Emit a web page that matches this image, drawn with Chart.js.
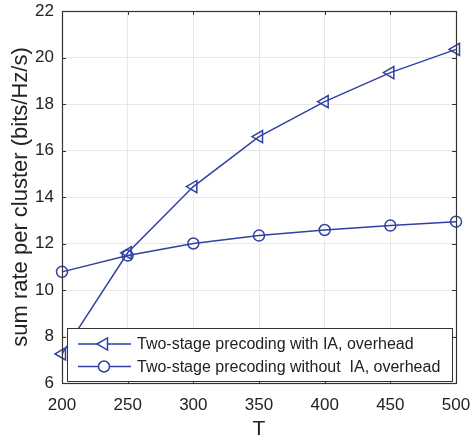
<!DOCTYPE html>
<html>
<head>
<meta charset="utf-8">
<script src="https://cdn.jsdelivr.net/npm/chart.js@4/dist/chart.umd.min.js"></script>
<style>
  html, body { margin: 0; padding: 0; background: #fff; }
  #wrap { width: 470px; height: 442px; }
</style>
</head>
<body>
<div id="wrap"><canvas id="c" width="470" height="442"></canvas></div>
<script>
// data
const T = [200, 250, 300, 350, 400, 450, 500];
const withIA = [7.25, 11.6, 14.45, 16.6, 18.1, 19.35, 20.35];
const withoutIA = [10.78, 11.48, 12.0, 12.34, 12.58, 12.77, 12.94];
const seriesNames = ['Two-stage precoding with IA, overhead', 'Two-stage precoding without  IA, overhead'];
const xTicks = [200, 250, 300, 350, 400, 450, 500];
const yTicks = [6, 8, 10, 12, 14, 16, 18, 20, 22];

const blue = '#3141a0';
const font = "'Liberation Sans', Arial, sans-serif";

// box + inward ticks (matlab style)
const boxPlugin = {
  id: 'box',
  afterDatasetsDraw(chart) {
    const { ctx, chartArea: a, scales } = chart;
    ctx.save();
    ctx.strokeStyle = '#333';
    ctx.lineWidth = 1;
    ctx.beginPath();
    xTicks.forEach(v => {
      const x = Math.round(scales.x.getPixelForValue(v)) + 0.5;
      ctx.moveTo(x, a.bottom); ctx.lineTo(x, a.bottom - 4);
      ctx.moveTo(x, a.top); ctx.lineTo(x, a.top + 4);
    });
    yTicks.forEach(v => {
      const y = Math.round(scales.y.getPixelForValue(v)) + 0.5;
      ctx.moveTo(a.left, y); ctx.lineTo(a.left + 4, y);
      ctx.moveTo(a.right, y); ctx.lineTo(a.right - 4, y);
    });
    ctx.stroke();
    ctx.lineWidth = 1.2;
    ctx.strokeRect(Math.round(a.left) + 0.5, Math.round(a.top) + 0.5,
      Math.round(a.right - a.left), Math.round(a.bottom - a.top));
    ctx.restore();
  }
};

// legend box inside the plot, lower part
const legendPlugin = {
  id: 'boxLegend',
  afterDraw(chart) {
    const { ctx, chartArea: a } = chart;
    const x0 = a.left + 5, x1 = a.right - 4;
    const y0 = a.bottom - 55, y1 = a.bottom - 2;
    ctx.save();
    ctx.fillStyle = '#fff';
    ctx.fillRect(x0, y0, x1 - x0, y1 - y0);
    ctx.strokeStyle = '#333';
    ctx.lineWidth = 1;
    ctx.strokeRect(x0 + 0.5, y0 + 0.5, x1 - x0, y1 - y0);
    ctx.font = '16px ' + font;
    ctx.textBaseline = 'middle';
    chart.data.datasets.forEach((ds, i) => {
      const y = y0 + 16 + i * 22.5;
      ctx.strokeStyle = ds.borderColor;
      ctx.lineWidth = 1.5;
      ctx.beginPath();
      ctx.moveTo(x0 + 11, y); ctx.lineTo(x0 + 64, y);
      ctx.stroke();
      ctx.fillStyle = '#fff';
      Chart.helpers.drawPoint(ctx, {
        pointStyle: ds.pointStyle, radius: ds.pointRadius,
        rotation: ds.rotation || 0, borderWidth: 1.5
      }, x0 + 37, y);
      ctx.fillStyle = '#222';
      ctx.fillText(ds.label, x0 + 70, y + 1);
    });
    ctx.restore();
  }
};

new Chart(document.getElementById('c'), {
  type: 'line',
  data: {
    datasets: [
      {
        label: seriesNames[0],
        data: T.map((t, i) => ({ x: t, y: withIA[i] })),
        borderColor: blue,
        backgroundColor: 'rgba(0,0,0,0)',
        borderWidth: 1.5,
        pointStyle: 'triangle',
        rotation: -90,
        pointRadius: 7,
        pointBorderWidth: 1.5,
        clip: false
      },
      {
        label: seriesNames[1],
        data: T.map((t, i) => ({ x: t, y: withoutIA[i] })),
        borderColor: blue,
        backgroundColor: 'rgba(0,0,0,0)',
        borderWidth: 1.5,
        pointStyle: 'circle',
        pointRadius: 5.5,
        pointBorderWidth: 1.5,
        clip: false
      }
    ]
  },
  options: {
    responsive: false,
    animation: false,
    events: [],
    layout: { padding: { top: 11, right: 14, left: 0, bottom: 0 } },
    plugins: { legend: { display: false }, tooltip: { enabled: false } },
    scales: {
      x: {
        type: 'linear', min: 200, max: 500,
        afterBuildTicks: s => { s.ticks = xTicks.map(v => ({ value: v })); },
        afterFit: s => { s.height = 59; s.paddingLeft = 0; s.paddingRight = 0; },
        grid: { color: '#e8e8e8', drawTicks: false },
        border: { display: false },
        ticks: { color: '#222', font: { family: font, size: 17 }, padding: 12, maxRotation: 0 },
        title: { display: true, text: 'T', color: '#222', font: { family: font, size: 21 }, padding: { top: 0, bottom: 0 } }
      },
      y: {
        type: 'linear', min: 6, max: 22,
        afterBuildTicks: s => { s.ticks = yTicks.map(v => ({ value: v })); },
        afterFit: s => { s.width = 62; s.paddingTop = 0; s.paddingBottom = 0; },
        grid: { color: '#e8e8e8', drawTicks: false },
        border: { display: false },
        ticks: { color: '#222', font: { family: font, size: 17 }, padding: 8 },
        title: { display: true, text: 'sum rate per cluster (bits/Hz/s)', color: '#222', font: { family: font, size: 22 }, padding: { top: 8, bottom: 0 } }
      }
    }
  },
  plugins: [boxPlugin, legendPlugin]
});
</script>
</body>
</html>
